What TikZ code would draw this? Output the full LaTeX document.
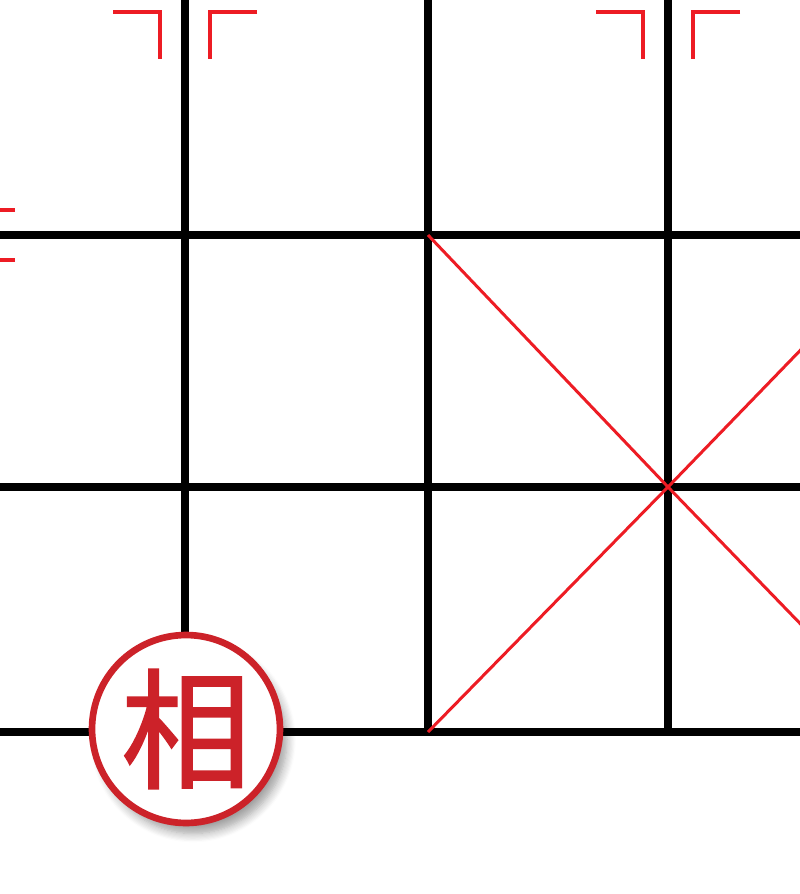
\documentclass[tikz,border=0pt]{standalone}
\usepackage{fontspec}
\newfontfamily\hanzi[FakeBold=1.2]{Noto Sans CJK SC}
\usetikzlibrary{shadows.blur}
\definecolor{markred}{HTML}{ED1C24}
\definecolor{piecered}{HTML}{CC2229}

\begin{document}
\begin{tikzpicture}[x=0.02cm, y=-0.02cm,
        gridline/.style={line width=4pt, black},
        pointmark/.style={line width=2.3pt, markred},
        palace/.style={line width=1.7pt, markred},
        piece/.style={circle, draw=piecered, line width=3.8pt, fill=white,
            minimum size=3.76cm, inner sep=0pt, text=piecered,
            font=\hanzi\fontsize{74}{74}\selectfont,
            blur shadow={shadow xshift=4pt, shadow yshift=-6pt, shadow blur radius=5pt,
                shadow blur steps=8, shadow opacity=38}}]
        \useasboundingbox (0,0) rectangle (800,894);
        \clip (0,0) rectangle (800,894);
        \coordinate (c1) at (428,235);
        \coordinate (c3) at (428,732);
        \coordinate (d2) at (668,487);
        \coordinate (e1) at (908,239);
        \coordinate (e3) at (908,735);
        \foreach \x in {185,428,668}
            \draw[gridline] (\x,-20) -- (\x,732);
        \foreach \y in {235,487,732}
            \draw[gridline] (-20,\y) -- (820,\y);
        \draw[palace] (c1) -- (d2) -- (e3);
        \draw[palace] (c3) -- (d2) -- (e1);
        \foreach \px/\py in {-57/235, 185/-13, 668/-13}
            \foreach \sx in {-1,1}
                \foreach \sy in {-1,1}
                    \draw[pointmark] (\px+\sx*72,\py+\sy*25) -- (\px+\sx*25,\py+\sy*25) -- (\px+\sx*25,\py+\sy*72);
        \node[piece] (xiang) at (186,729) {相};
    \end{tikzpicture}
\end{document}
